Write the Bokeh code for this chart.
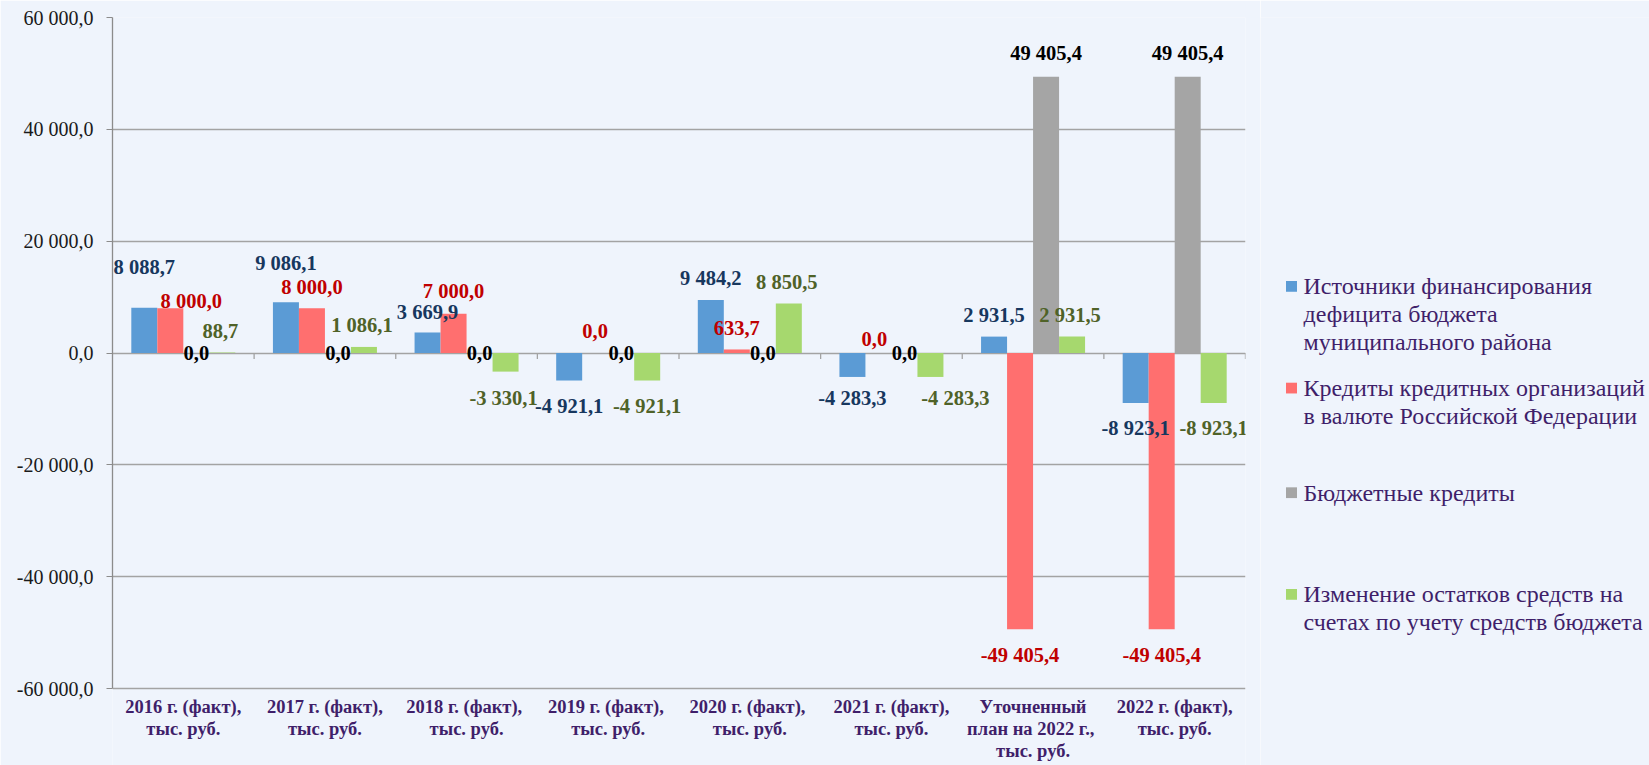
from bokeh.plotting import figure
from bokeh.models import ColumnDataSource, FixedTicker, Range1d, FactorRange
from bokeh.transform import dodge
from bokeh.layouts import row
from bokeh.core.properties import value
from bokeh.embed import file_html
from bokeh.resources import INLINE

# ---------------- data ----------------
categories = [
    "2016 г. (факт),\nтыс. руб.",
    "2017 г. (факт),\nтыс. руб.",
    "2018  г. (факт),\nтыс. руб.",
    "2019  г. (факт),\nтыс. руб.",
    "2020  г. (факт),\nтыс. руб.",
    "2021 г. (факт),\nтыс. руб.",
    "Уточненный\nплан на 2022  г.,\nтыс. руб.",
    "2022 г. (факт),\nтыс. руб.",
]
series_names = [
    "Источники финансирования\nдефицита бюджета\nмуниципального района",
    "Кредиты кредитных организаций\nв валюте  Российской Федерации",
    "Бюджетные кредиты",
    "Изменение остатков средств на\nсчетах по учету средств бюджета",
]
deficit_sources = [8088.7, 9086.1, 3669.9, -4921.1, 9484.2, -4283.3, 2931.5, -8923.1]
bank_credits = [8000.0, 8000.0, 7000.0, 0.0, 633.7, 0.0, -49405.4, -49405.4]
budget_credits = [0.0, 0.0, 0.0, 0.0, 0.0, 0.0, 49405.4, 49405.4]
balance_change = [88.7, 1086.1, -3330.1, -4921.1, 8850.5, -4283.3, 2931.5, -8923.1]

y_ticks = [-60000, -40000, -20000, 0, 20000, 40000, 60000]
y_tick_labels = ["-60 000,0", "-40 000,0", "-20 000,0", "0,0", "20 000,0", "40 000,0", "60 000,0"]

# ---------------- styles / layout ----------------
FONT = "Liberation Serif"
bar_colors = ["#5B9BD5", "#FF6F6F", "#A5A5A5", "#A6D86E"]
label_colors = ["#17375E", "#C00000", "#000000", "#4F6228"]
purple = "#3F1F6A"
bg = "#EFF4FC"
grid_col = "#A3A3A3"

bar_w = 0.1836
offsets = [-1.5 * bar_w, -0.5 * bar_w, 0.5 * bar_w, 1.5 * bar_w]

# label offsets in screen pixels (positive dy = down)
label_dx = [
    [0, 0, 0, 0, 0, 0, 0, 0],
    [21, 0, 0, 0, 0, -4, 0, 0],
    [0, 0, 0, 0, 0, 0, 0, 0],
    [-2, -2, -2, 0, -2, 25, -2, 0],
]
label_dy = [
    [-41, -39, -20, 25, -22, 21, -22, 25],
    [-7, -21, -23, -22, -21, -14, 26, 26],
    [0, 0, 0, 0, 0, 0, -24, -24],
    [-22, -22, 26, 25, -22, 21, -22, 25],
]


def fmt(v):
    return f"{v:,.1f}".replace(",", " ").replace(".", ",")


W_MAIN, H = 1260, 765
TOP, LEFT, RIGHT = 17, 112, 15
frame_h = H - TOP
px_per_unit = 671.0 / 120000.0          # 20 000 per ~112 px
y_top = max(y_ticks)
y_bottom = y_top - frame_h / px_per_unit  # extra room under -60 000 for category labels

p = figure(
    x_range=FactorRange(*categories, range_padding=0),
    y_range=Range1d(y_bottom, y_top),
    width=W_MAIN, height=H,
    output_backend="svg", toolbar_location=None,
    x_axis_location=None,
    min_border_left=LEFT, min_border_right=RIGHT, min_border_top=TOP, min_border_bottom=0,
)
p.background_fill_color = bg
p.border_fill_color = bg
p.outline_line_color = None

p.xgrid.grid_line_color = None
p.ygrid.grid_line_color = grid_col
p.ygrid.grid_line_width = 1.3
p.ygrid.ticker = FixedTicker(ticks=y_ticks)

p.yaxis.ticker = FixedTicker(ticks=y_ticks)
p.yaxis.bounds = (min(y_ticks), max(y_ticks))
p.yaxis.major_label_overrides = {t: l for t, l in zip(y_ticks, y_tick_labels)}
p.yaxis.major_label_text_font = FONT
p.yaxis.major_label_text_font_size = "20px"
p.yaxis.major_label_text_color = "#1A1A1A"
p.yaxis.axis_line_color = "#8C8C8C"
p.yaxis.axis_line_width = 1.3
p.yaxis.major_tick_line_color = "#8C8C8C"
p.yaxis.major_tick_in = 0
p.yaxis.major_tick_out = 6
p.yaxis.minor_tick_line_color = None
p.yaxis.major_label_standoff = 13

series = [deficit_sources, bank_credits, budget_credits, balance_change]

for k, vals in enumerate(series):
    src = ColumnDataSource(dict(cat=categories, v=vals))
    p.vbar(x=dodge("cat", offsets[k], range=p.x_range), top="v", bottom=0,
           width=bar_w, source=src, fill_color=bar_colors[k], line_color=None)

# zero-line category boundary ticks
bx = list(range(1, len(categories) + 1))
p.segment(x0=bx, y0=[0] * len(bx), x1=bx, y1=[-6 / px_per_unit] * len(bx),
          line_color=grid_col, line_width=1.3)

# category labels under the -60 000 line
p.text(x=categories, y=[min(y_ticks)] * len(categories), text=categories,
       y_offset=8, text_align="center", text_baseline="top",
       text_font=value(FONT), text_font_style="bold", text_font_size="18.5px",
       text_line_height=1.1, text_color=purple)

for k, vals in enumerate(series):
    src = ColumnDataSource(dict(
        cat=categories, v=vals,
        lbl=[fmt(v) for v in vals],
        dx=label_dx[k], dy=label_dy[k],
    ))
    p.text(x=dodge("cat", offsets[k], range=p.x_range), y="v", text="lbl",
           x_offset="dx", y_offset="dy", source=src,
           text_align="center", text_baseline="middle",
           text_font=value(FONT), text_font_style="bold",
           text_font_size="20.5px", text_color=label_colors[k])

# ---------------- legend panel ----------------
W_LEG = 1649 - W_MAIN
leg = figure(width=W_LEG, height=H, x_range=Range1d(0, W_LEG), y_range=Range1d(H, 0),
             output_backend="svg", toolbar_location=None,
             x_axis_location=None, y_axis_location=None, min_border=0)
leg.grid.visible = False
leg.outline_line_color = None
leg.background_fill_color = bg
leg.border_fill_color = bg

item_y = [275, 379, 486, 590]
line_h = 28.5
sq_x, txt_x = 31, 43
leg.rect(x=[sq_x] * 4, y=item_y, width=11, height=11,
         fill_color=bar_colors, line_color=None)
tx, ty, tt = [], [], []
for y0, name in zip(item_y, series_names):
    for i, line in enumerate(name.split("\n")):
        tx.append(txt_x)
        ty.append(y0 + i * line_h)
        tt.append(line)
leg.text(x=tx, y=ty, text=tt, text_align="left", text_baseline="middle",
         text_font=value(FONT), text_font_size="24px", text_color=purple)

layout = row(p, leg)
open("out.html", "w").write(file_html(layout, INLINE))
